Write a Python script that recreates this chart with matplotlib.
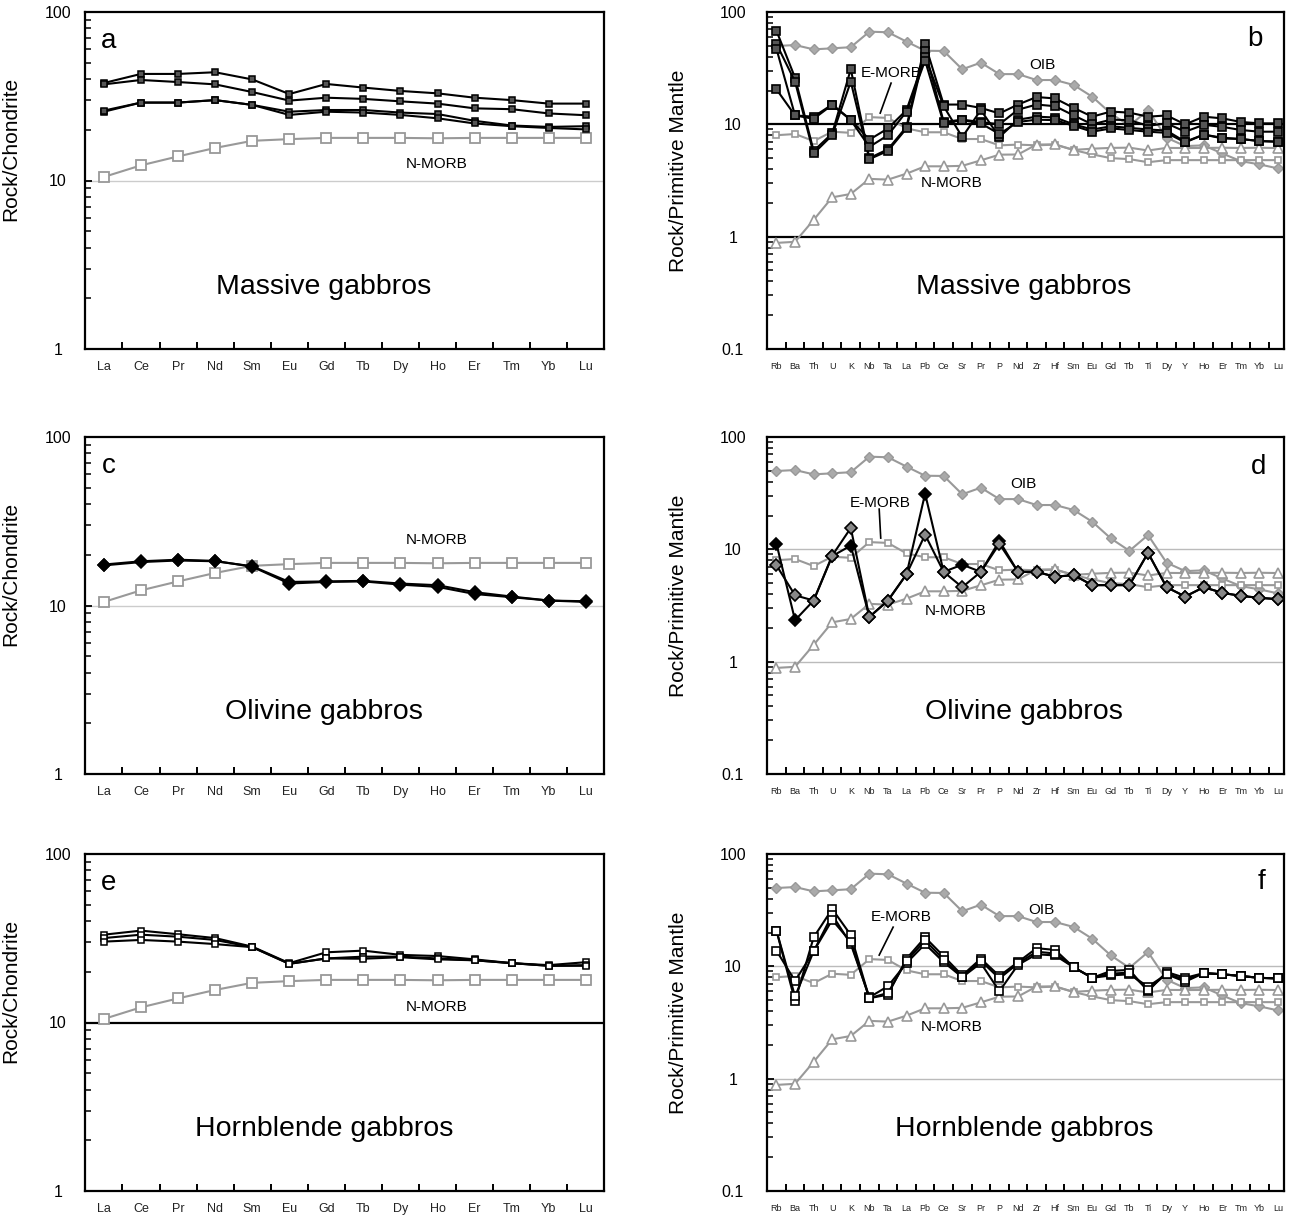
import matplotlib
matplotlib.use("Agg")
import matplotlib.pyplot as plt
from matplotlib.ticker import LogLocator, NullFormatter

plt.rcParams['font.family'] = ['Liberation Sans', 'DejaVu Sans']

# element orders
ree = ['La', 'Ce', 'Pr', 'Nd', 'Sm', 'Eu', 'Gd', 'Tb', 'Dy', 'Ho', 'Er', 'Tm', 'Yb', 'Lu']
spider = ['Rb', 'Ba', 'Th', 'U', 'K', 'Nb', 'Ta', 'La', 'Pb', 'Ce', 'Sr', 'Pr', 'P', 'Nd',
          'Zr', 'Hf', 'Sm', 'Eu', 'Gd', 'Tb', 'Ti', 'Dy', 'Y', 'Ho', 'Er', 'Tm', 'Yb', 'Lu']

# reference compositions
nmorb_ree = [10.5, 12.3, 13.9, 15.6, 17.2, 17.6, 17.9, 17.9, 17.9, 17.8, 17.9, 17.9, 17.9, 17.9]
oib_pm = [49.8, 50.8, 46.5, 47.5, 48.6, 66.8, 66.0, 54.5, 45.2, 45.0, 30.9, 35.4, 28.0, 28.0,
          24.8, 24.8, 22.4, 17.6, 12.5, 9.7, 13.4, 7.6, 6.4, 6.5, 5.5, 4.7, 4.4, 4.05]
emorb_pm = [8.0, 8.2, 7.1, 8.6, 8.4, 11.6, 11.4, 9.2, 8.5, 8.5, 7.4, 7.4, 6.5, 6.6,
            6.5, 6.6, 5.9, 5.4, 5.0, 4.9, 4.6, 4.8, 4.8, 4.8, 4.8, 4.8, 4.8, 4.8]
nmorb_pm = [0.88, 0.90, 1.41, 2.24, 2.4, 3.27, 3.22, 3.64, 4.23, 4.23, 4.27, 4.78, 5.37, 5.39,
            6.61, 6.63, 5.92, 6.07, 6.17, 6.2, 5.85, 6.17, 6.15, 6.16, 6.19, 6.16, 6.19, 6.15]

# massive gabbros
massive_ree = [
    [37.9, 42.9, 42.9, 43.9, 39.8, 32.6, 37.4, 35.6, 34.0, 32.9, 31.0, 30.0, 28.6, 28.6],
    [37.2, 39.5, 38.4, 37.2, 33.5, 29.8, 31.0, 30.5, 29.5, 28.6, 26.8, 26.5, 25.0, 24.4],
    [25.6, 29.0, 29.0, 30.0, 28.1, 25.6, 26.2, 26.2, 25.3, 24.8, 22.6, 21.2, 20.8, 21.0],
    [26.0, 29.0, 29.0, 30.0, 28.1, 24.5, 25.6, 25.3, 24.5, 23.4, 21.8, 21.0, 20.5, 20.1],
]
massive_pm = [
    [68, 26, 5.8, 8.3, 31, 5.0, 6.0, 9.5, 52, 15, 15, 14, 12.5, 15,
     17.5, 17, 14, 11.7, 13, 12.7, 11.7, 12, 10, 11.7, 11.3, 10.5, 10.2, 10.2],
    [52, 24, 5.5, 8.0, 24, 4.9, 5.8, 9.2, 45, 10.5, 11, 10.5, 10, 13.5,
     15, 14.5, 12, 10, 11, 10.9, 9.7, 10.2, 8.6, 9.9, 9.5, 8.9, 8.6, 8.6],
    [47, 12, 11.7, 15, 11, 7.3, 9.2, 13.4, 40, 14.5, 7.7, 13.4, 7.7, 11,
     11.7, 11.5, 10, 9, 9.6, 9.3, 9, 8.8, 7, 8.1, 7.6, 7.4, 7.1, 7],
    [20.5, 12, 11.2, 14.9, 10.9, 6.3, 8, 13, 37, 10.2, 10.9, 10.2, 8.2, 10.5,
     11, 10.9, 9.7, 8.6, 9.2, 8.9, 8.6, 8.4, 6.9, 8.1, 7.5, 7.4, 7.1, 7],
]

# olivine gabbros
olivine_ree = [
    [17.3, 18.1, 18.5, 18.3, 17.1, 13.8, 13.9, 14.0, 13.5, 13.2, 12.0, 11.3, 10.7, 10.5],
    [17.5, 18.3, 18.7, 18.4, 17.0, 13.5, 13.8, 13.9, 13.3, 12.9, 11.7, 11.2, 10.7, 10.6],
]
olivine_pm = [
    [11.2, 2.34, 3.5, 8.7, 10.8, 2.5, 3.5, 6.0, 31.3, 6.3, 7.3, 6.3, 11.9, 6.3,
     6.3, 5.7, 5.9, 4.8, 4.8, 4.8, 9.3, 4.6, 3.8, 4.6, 4.1, 3.85, 3.7, 3.6],
    [7.2, 3.9, 3.5, 8.8, 15.5, 2.5, 3.5, 6.0, 13.5, 6.3, 4.6, 6.3, 11.2, 6.3,
     6.3, 5.7, 5.9, 4.8, 4.8, 4.8, 9.3, 4.6, 3.8, 4.6, 4.1, 3.85, 3.7, 3.6],
]

# hornblende gabbros
hornblende_ree = [
    [33.2, 35.1, 33.4, 31.7, 28.2, 22.5, 26.1, 26.7, 25.2, 24.8, 23.7, 22.5, 21.9, 22.8],
    [31.7, 33.2, 32.3, 30.9, 28.0, 22.3, 24.0, 24.6, 24.6, 24.0, 23.4, 22.5, 21.7, 21.9],
    [30.2, 30.9, 30.2, 29.2, 28.0, 22.3, 24.0, 23.9, 24.4, 23.7, 23.4, 22.5, 21.7, 21.7],
]
hornblende_pm = [
    [20.8, 4.9, 18.1, 32.4, 19, 5.2, 5.6, 11.7, 18.1, 12.3, 8.3, 11.7, 8.2, 10.9,
     14.5, 14, 9.8, 7.9, 9.1, 9.3, 6.0, 8.9, 7.9, 8.7, 8.5, 8.2, 7.9, 7.8],
    [13.8, 7.4, 13.6, 28.7, 15.8, 5.3, 6.65, 10.7, 15.8, 10.9, 8.0, 10.7, 6.0, 10.3,
     12.8, 12.5, 9.8, 7.9, 8.3, 8.5, 6.6, 8.5, 7.3, 8.7, 8.5, 8.2, 7.9, 7.8],
    [20.8, 5.4, 13.6, 25.9, 16.5, 5.2, 5.8, 11.2, 17, 11.5, 8.1, 11.2, 7.8, 10.6,
     13.5, 13, 9.8, 7.9, 8.6, 8.8, 6.2, 8.6, 7.6, 8.7, 8.5, 8.2, 7.9, 7.8],
]

GREY = '#999999'
W, H = 1292, 1220
fig = plt.figure(figsize=(W / 100, H / 100), dpi=100)


def make_axes(x0, top, w, h=337):
    return fig.add_axes([x0 / W, 1 - (top + h) / H, w / W, h / H])


def style_axes(ax, labels, ymin, ytick_labels, xfont, xpad, ylab, ylab_xy, ypad):
    n = len(labels)
    ax.set_yscale('log')
    ax.set_ylim(ymin, 100)
    ax.set_xlim(-0.51, n - 1 + (0.49 if n < 20 else 0.32))
    ticks = [float(t) for t in ytick_labels]
    ax.set_yticks(ticks, ytick_labels, ha='center', fontsize=11.5)
    ax.yaxis.set_minor_locator(LogLocator(base=10, subs=range(2, 10)))
    ax.yaxis.set_minor_formatter(NullFormatter())
    ax.tick_params(axis='y', which='major', direction='in', length=5, width=1.3, pad=ypad)
    ax.tick_params(axis='y', which='minor', direction='in', length=4, width=1.1)
    ax.set_xticks(range(n), labels, fontsize=xfont, color='#222222')
    ax.tick_params(axis='x', which='major', length=0, pad=xpad)
    ax.set_xticks([k + 0.5 for k in range(n - 1)], minor=True)
    ax.tick_params(axis='x', which='minor', direction='in', length=5, width=1.4)
    for s in ax.spines.values():
        s.set_linewidth(1.6)
    ax.set_ylabel(ylab, fontsize=15)
    ax.yaxis.set_label_coords(*ylab_xy)


def ree_panel(top, letter, title, samples, marker, face, edge, ref_line, nm_y):
    ax = make_axes(85, top, 519)
    x = range(len(ree))
    if ref_line == 'black':
        ax.axhline(10, color='black', lw=1.6, zorder=1)
    else:
        ax.axhline(10, color='#cccccc', lw=1.0, zorder=1)
    ax.plot(x, nmorb_ree, color=GREY, lw=1.5, marker='s', ms=7.5, mfc='white',
            mec=GREY, mew=1.3, zorder=2)
    for s in samples:
        ax.plot(x, s, color='black', lw=1.5, marker=marker, ms=5 if marker == 's' else 6,
                mfc=face, mec=edge, mew=1.1, zorder=3)
    style_axes(ax, ree, 1, ['1', '10', '100'], 9, 8.5, 'Rock/Chondrite',
               (-0.125, 0.593), 19.5)
    ax.text(0.046, 0.915, letter, transform=ax.transAxes, fontsize=20, ha='center', va='center')
    ax.text(0.46, 0.183, title, transform=ax.transAxes, fontsize=20.5, ha='center', va='center')
    ax.text(0.678, nm_y, 'N-MORB', transform=ax.transAxes, fontsize=11, ha='center', va='center')
    return ax


def spider_panel(top, letter, title, samples, marker, faces, edge, ref_black, labels_xy):
    ax = make_axes(767, top, 517)
    x = range(len(spider))
    if ref_black:
        ax.axhline(10, color='black', lw=1.6, zorder=1)
        ax.axhline(1, color='black', lw=1.6, zorder=1)
    else:
        ax.axhline(10, color='#bbbbbb', lw=1.0, zorder=1)
        ax.axhline(1, color='#bbbbbb', lw=1.0, zorder=1)
    ax.plot(x, oib_pm, color=GREY, lw=1.5, marker='D', ms=5.5, mfc='#aaaaaa', mec=GREY,
            mew=1.0, zorder=2)
    ax.plot(x, emorb_pm, color=GREY, lw=1.5, marker='s', ms=5, mfc='white', mec=GREY,
            mew=1.2, zorder=2)
    ax.plot(x, nmorb_pm, color=GREY, lw=1.5, marker='^', ms=6.5, mfc='white', mec=GREY,
            mew=1.2, zorder=2)
    for s, fc in zip(samples, faces):
        ax.plot(x, s, color='black', lw=1.5, marker=marker, ms=5.5 if marker == 's' else 6,
                mfc=fc, mec=edge, mew=1.2, zorder=3)
    style_axes(ax, spider, 0.1, ['0.1', '1', '10', '100'], 6.5, 9.5, 'Rock/Primitive Mantle',
               (-0.153, 0.528), 24.5)
    tr = ax.transAxes
    lx, ly = labels_xy['letter']
    ax.text(lx, ly, letter, transform=tr, fontsize=20, ha='center', va='center')
    ax.text(0.497, 0.183, title, transform=tr, fontsize=20.5, ha='center', va='center')
    for name in ['OIB', 'E-MORB', 'N-MORB']:
        tx, ty = labels_xy[name]
        ax.text(tx, ty, name, transform=tr, fontsize=11, ha='center', va='center')
    (x0, y0), (x1, y1) = labels_xy['leader']
    ax.plot([x0, x1], [y0, y1], transform=tr, color='black', lw=1.2)
    return ax


ree_panel(12, 'a', 'Massive gabbros', massive_ree, 's', '#555555', 'black', 'grey', 0.549)
ree_panel(437, 'c', 'Olivine gabbros', olivine_ree, 'D', 'black', 'black', 'grey', 0.693)
ree_panel(854, 'e', 'Hornblende gabbros', hornblende_ree, 's', 'white', 'black', 'black', 0.546)

spider_panel(12, 'b', 'Massive gabbros', massive_pm, 's', ['#555555'] * 4, 'black', True,
             {'letter': (0.944, 0.921), 'OIB': (0.532, 0.843), 'E-MORB': (0.240, 0.819),
              'N-MORB': (0.358, 0.493), 'leader': ((0.240, 0.789), (0.219, 0.700))})
spider_panel(437, 'd', 'Olivine gabbros', olivine_pm, 'D', ['black', '#888888'], 'black', False,
             {'letter': (0.950, 0.912), 'OIB': (0.495, 0.861), 'E-MORB': (0.219, 0.804),
              'N-MORB': (0.364, 0.485), 'leader': ((0.217, 0.786), (0.220, 0.700))})
spider_panel(854, 'f', 'Hornblende gabbros', hornblende_pm, 's', ['white'] * 3, 'black', False,
             {'letter': (0.957, 0.917), 'OIB': (0.530, 0.834), 'E-MORB': (0.259, 0.813),
              'N-MORB': (0.358, 0.487), 'leader': ((0.244, 0.783), (0.217, 0.700))})

fig.savefig('out.png', dpi=100)
